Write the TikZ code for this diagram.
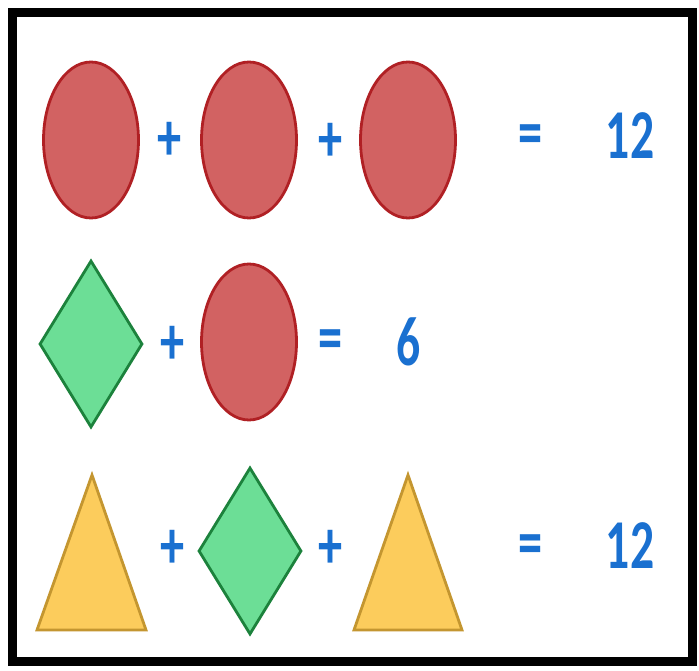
\documentclass[tikz,border=0pt]{standalone}
\usepackage{fontspec}
\setmainfont{Carlito}
\usetikzlibrary{shapes.geometric}
\definecolor{redfill}{RGB}{210,98,98}
\definecolor{redline}{RGB}{176,32,36}
\definecolor{greenfill}{RGB}{108,222,150}
\definecolor{greenline}{RGB}{28,130,60}
\definecolor{yelfill}{RGB}{252,204,92}
\definecolor{yelline}{RGB}{196,150,48}
\definecolor{numblue}{RGB}{26,112,208}
\newcommand{\tallop}[1]{\scalebox{1.05}[1.5]{#1}}
\newcommand{\narrownum}[1]{\scalebox{0.68}[1]{#1}}
\tikzset{
  x=1pt,y=-1pt,
  redball/.style={ellipse,draw=redline,fill=redfill,line width=2.8pt,minimum width=95pt,minimum height=156pt,inner sep=0pt},
  greengem/.style={diamond,draw=greenline,fill=greenfill,line width=2.8pt,minimum width=103pt,minimum height=167pt,inner sep=0pt},
  yeltri/.style={draw=yelline,fill=yelfill,line width=2.8pt,line join=miter},
  op/.style={text=numblue,font=\bfseries\fontsize{46}{46}\selectfont,inner sep=0pt},
  num/.style={text=numblue,font=\bfseries\fontsize{70}{70}\selectfont,inner sep=0pt},
}
\begin{document}
\begin{tikzpicture}
\useasboundingbox (0,0) rectangle (699,671);
\fill[white] (0,0) rectangle (699,671);
\draw[line width=9pt] (12.5,12.5) rectangle (692.5,661.5);
% row 1
\node[redball] (c1) at (91,140) {};
\node[op] (p1) at (170,141) {\tallop{+}};
\node[redball] (c2) at (249,140) {};
\node[op] (p2) at (331,142) {\tallop{+}};
\node[redball] (c3) at (408,140) {};
\node[op] (e1) at (531,140) {\tallop{=}};
\node[num] (n1) at (630,136) {\narrownum{12}};
% row 2
\node[greengem] (d1) at (91,344) {};
\node[op] (p3) at (173,345) {\tallop{+}};
\node[redball] (c4) at (249,342) {};
\node[op] (e2) at (331,345) {\tallop{=}};
\node[num] (n2) at (409,342) {\narrownum{6}};
% row 3
\draw[yeltri] (37,630) -- (92,475) -- (146,630) -- cycle;
\node[op] (p4) at (172.5,549) {\tallop{+}};
\node[greengem] (d2) at (250,551) {};
\node[op] (p5) at (331,549) {\tallop{+}};
\draw[yeltri] (354,630) -- (408,475) -- (462,630) -- cycle;
\node[op] (e3) at (531,550) {\tallop{=}};
\node[num] (n3) at (630,545.5) {\narrownum{12}};
\end{tikzpicture}
\end{document}
